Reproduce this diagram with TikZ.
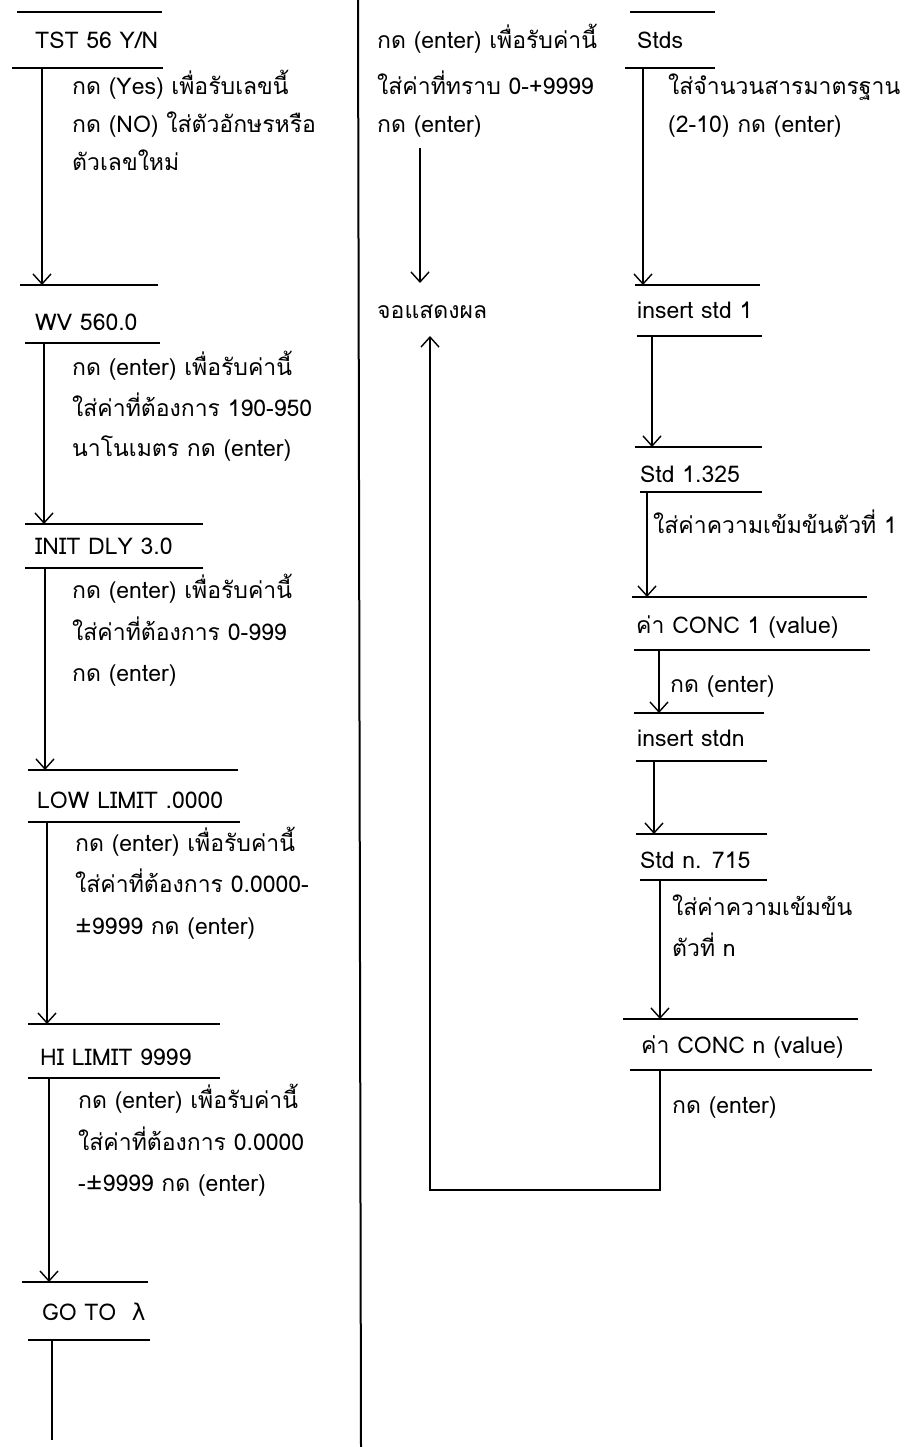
\documentclass[tikz,border=0pt]{standalone}
\usepackage{fontspec}
\setmainfont[Script=Thai]{Loma}
\newfontfamily\symfont{DejaVu Sans}
\usetikzlibrary{arrows.meta}
\begin{document}
\begin{tikzpicture}[x=1pt,y=-1pt,
  lbl/.style={anchor=base west, inner sep=0pt, font=\fontsize{23}{27}\selectfont},
  rule/.style={line width=2pt},
  flow/.style={line width=1.4pt, -{Straight Barb[length=10pt,width=18pt,line width=1.4pt]}},
  link/.style={line width=1.4pt}]
\useasboundingbox (0,0) rectangle (905,1447);

% column divider
\draw[line width=2pt] (358,0) -- (361,1447);

% ---------------- left column ----------------
% TST
\draw[rule] (17,12) -- (162,12);
\node[lbl] (tst) at (35,49) {TST 56 Y/N};
\draw[rule] (12,68) -- (163,68);
\node[lbl] (tst1) at (72,95) {กด (Yes) เพื่อรับเลขนี้};
\node[lbl] (tst2) at (72,133) {กด (NO) ใส่ตัวอักษรหรือ};
\node[lbl] (tst3) at (72,171) {ตัวเลขใหม่};
\coordinate (a1s) at (42,68); \coordinate (a1e) at (42,285);
\draw[flow] (a1s) -- (a1e);

% WV
\draw[rule] (20,285) -- (158,285);
\node[lbl] (wv) at (35,330) {WV 560.0};
\draw[rule] (25,343) -- (160,343);
\node[lbl] (wv1) at (72,375) {กด (enter) เพื่อรับค่านี้};
\node[lbl] (wv2) at (72,416) {ใส่ค่าที่ต้องการ 190-950};
\node[lbl] (wv3) at (72,456) {นาโนเมตร กด (enter)};
\coordinate (a2s) at (44,343); \coordinate (a2e) at (44,524);
\draw[flow] (a2s) -- (a2e);

% INIT DLY
\draw[rule] (25,524) -- (203,524);
\node[lbl] (dly) at (35,554) {INIT DLY 3.0};
\draw[rule] (25,568) -- (203,568);
\node[lbl] (dly1) at (72,598) {กด (enter) เพื่อรับค่านี้};
\node[lbl] (dly2) at (72,640) {ใส่ค่าที่ต้องการ 0-999};
\node[lbl] (dly3) at (72,681) {กด (enter)};
\coordinate (a3s) at (45,568); \coordinate (a3e) at (45,770);
\draw[flow] (a3s) -- (a3e);

% LOW LIMIT
\draw[rule] (28,770) -- (238,770);
\node[lbl] (low) at (37,808) {LOW LIMIT .0000};
\draw[rule] (28,822) -- (240,822);
\node[lbl] (low1) at (75,851) {กด (enter) เพื่อรับค่านี้};
\node[lbl] (low2) at (75,892) {ใส่ค่าที่ต้องการ 0.0000-};
\node[lbl] (low3) at (75,934) {±9999 กด (enter)};
\coordinate (a4s) at (47,822); \coordinate (a4e) at (47,1024);
\draw[flow] (a4s) -- (a4e);

% HI LIMIT
\draw[rule] (28,1024) -- (220,1024);
\node[lbl] (hi) at (40,1065) {HI LIMIT 9999};
\draw[rule] (28,1078) -- (220,1078);
\node[lbl] (hi1) at (78,1108) {กด (enter) เพื่อรับค่านี้};
\node[lbl] (hi2) at (78,1150) {ใส่ค่าที่ต้องการ 0.0000};
\node[lbl] (hi3) at (78,1191) {-±9999 กด (enter)};
\coordinate (a5s) at (49,1078); \coordinate (a5e) at (49,1282);
\draw[flow] (a5s) -- (a5e);

% GO TO
\draw[rule] (22,1282) -- (148,1282);
\node[lbl] (goto) at (42,1320) {GO TO\ \ {\symfont λ}};
\draw[rule] (28,1340) -- (150,1340);
\coordinate (a6s) at (52,1340); \coordinate (a6e) at (52,1440);
\draw[link] (a6s) -- (a6e);

% ---------------- middle column ----------------
\node[lbl] (m1) at (377,49) {กด (enter) เพื่อรับค่านี้};
\node[lbl] (m2) at (377,95) {ใส่ค่าที่ทราบ 0-+9999};
\node[lbl] (m3) at (377,133) {กด (enter)};
\node[lbl] (disp) at (377,318) {จอแสดงผล};
\coordinate (a7s) at (420,148); \coordinate (a7e) at (420,283);
\draw[flow] (a7s) -- (a7e);

% ---------------- right column ----------------
% Stds
\draw[rule] (630,12) -- (715,12);
\node[lbl] (stds) at (637,49) {Stds};
\draw[rule] (625,68) -- (715,68);
\node[lbl] (stds1) at (668,95) {ใส่จำนวนสารมาตรฐาน};
\node[lbl] (stds2) at (668,133) {(2-10) กด (enter)};
\coordinate (b1s) at (643,68); \coordinate (b1e) at (643,285);
\draw[flow] (b1s) -- (b1e);

% insert std 1
\draw[rule] (635,285) -- (760,285);
\node[lbl] (ins1) at (637,318) {insert std 1};
\draw[rule] (637,336) -- (762,336);
\coordinate (b2s) at (652,336); \coordinate (b2e) at (652,447);
\draw[flow] (b2s) -- (b2e);

% Std 1.325
\draw[rule] (635,447) -- (762,447);
\node[lbl] (std1) at (640,482) {Std 1.325};
\draw[rule] (640,492) -- (762,492);
\node[lbl] (std1a) at (653,533) {ใส่ค่าความเข้มข้นตัวที่ 1};
\coordinate (b3s) at (647,492); \coordinate (b3e) at (647,597);
\draw[flow] (b3s) -- (b3e);

% CONC 1
\draw[rule] (632,597) -- (867,597);
\node[lbl] (conc1) at (636,633) {ค่า CONC 1 (value)};
\draw[rule] (634,650) -- (870,650);
\node[lbl] (conc1a) at (670,692) {กด (enter)};
\coordinate (b4s) at (659,650); \coordinate (b4e) at (659,713);
\draw[flow] (b4s) -- (b4e);

% insert stdn
\draw[rule] (634,713) -- (764,713);
\node[lbl] (insn) at (637,746) {insert stdn};
\draw[rule] (636,761) -- (767,761);
\coordinate (b5s) at (654,761); \coordinate (b5e) at (654,834);
\draw[flow] (b5s) -- (b5e);

% Std n
\draw[rule] (636,834) -- (767,834);
\node[lbl] (stdn) at (640,868) {Std n. 715};
\draw[rule] (640,880) -- (767,880);
\node[lbl] (stdn1) at (672,915) {ใส่ค่าความเข้มข้น};
\node[lbl] (stdn2) at (672,956) {ตัวที่ n};
\coordinate (b6s) at (660,880); \coordinate (b6e) at (660,1019);
\draw[flow] (b6s) -- (b6e);

% CONC n
\draw[rule] (623,1019) -- (858,1019);
\node[lbl] (concn) at (641,1053) {ค่า CONC n (value)};
\draw[rule] (630,1070) -- (872,1070);
\node[lbl] (concna) at (672,1113) {กด (enter)};

% return path to the display
\coordinate (r1) at (660,1070);
\coordinate (r2) at (660,1190);
\coordinate (r3) at (430,1190);
\coordinate (r4) at (430,336);
\draw[flow] (r1) -- (r2) -- (r3) -- (r4);
\end{tikzpicture}
\end{document}
